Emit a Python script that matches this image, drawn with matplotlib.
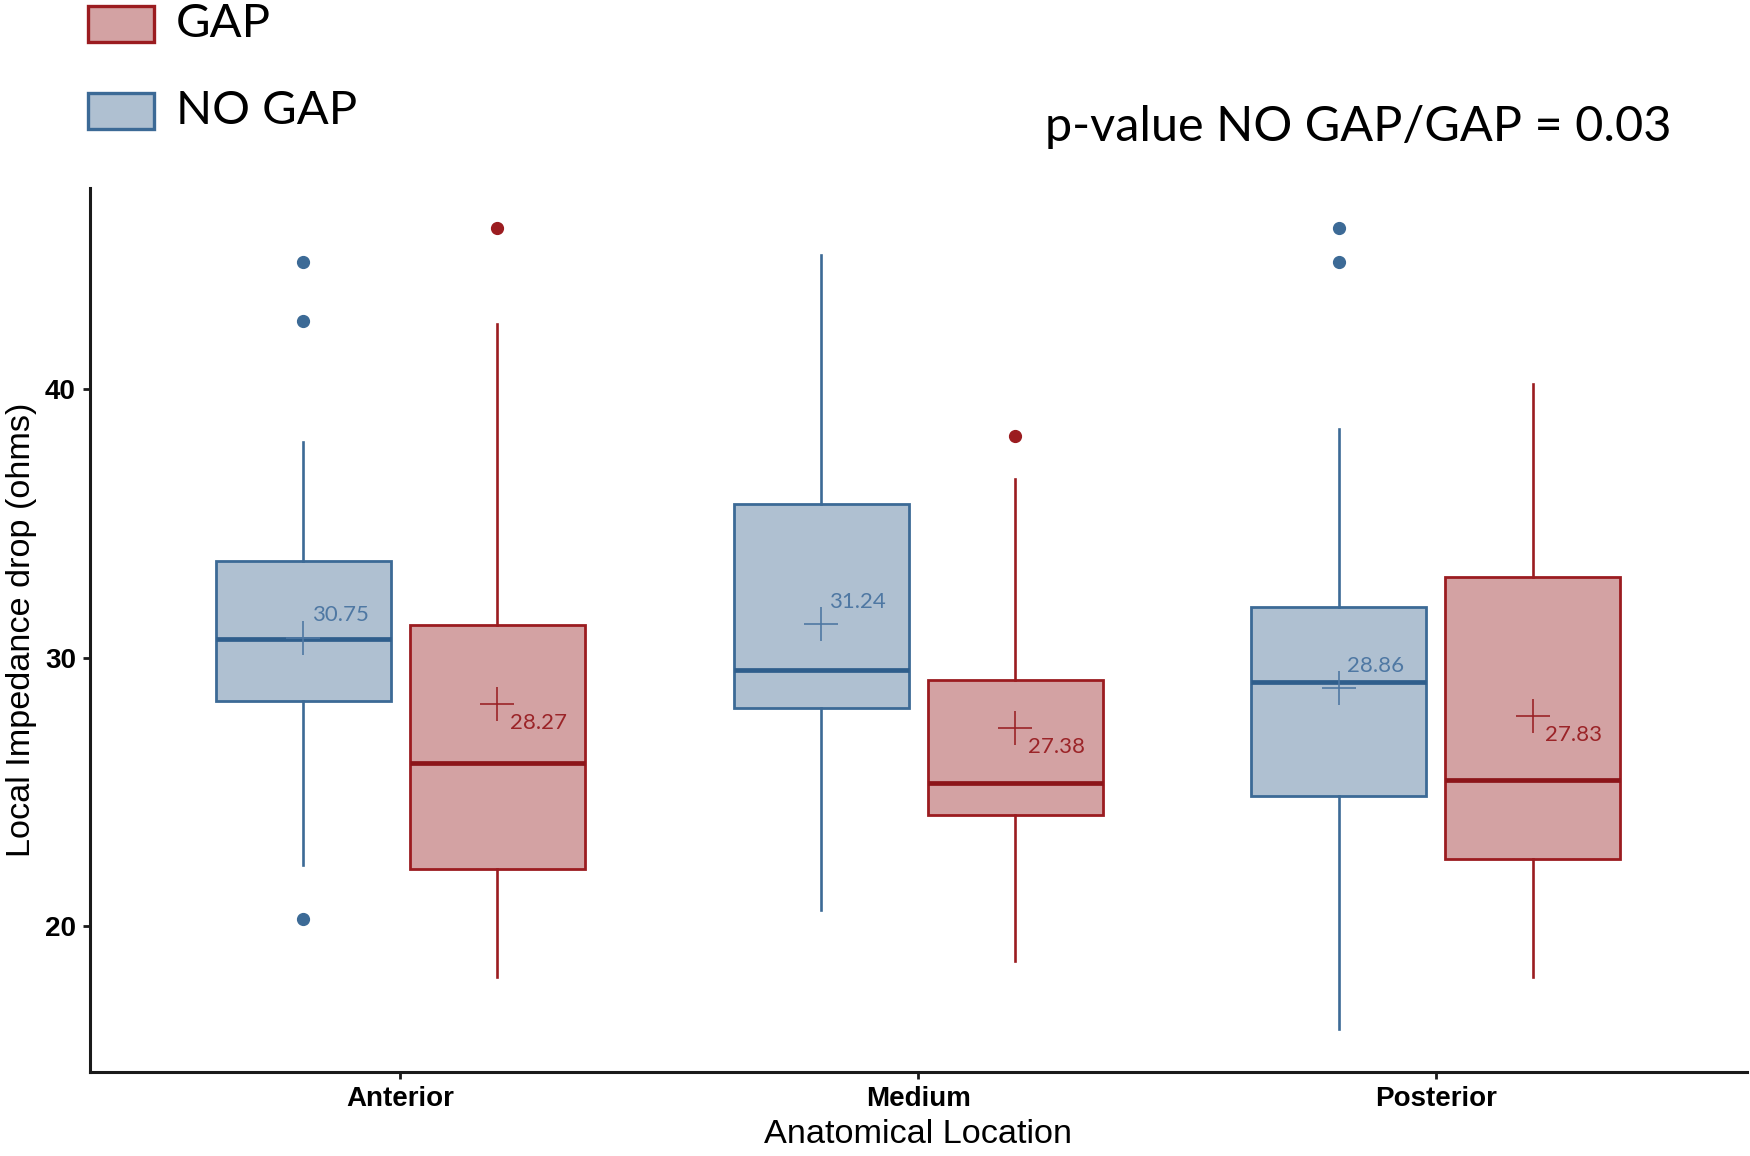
import matplotlib
matplotlib.use('Agg')
import matplotlib.pyplot as plt
from matplotlib.patches import Rectangle

# ---------------- data ----------------
locations = ['Anterior', 'Medium', 'Posterior']
groups = ['NO GAP', 'GAP']

nogap_whislo = [22.26, 20.59, 16.15]
nogap_q1 = [28.37, 28.12, 24.85]
nogap_med = [30.71, 29.54, 29.08]
nogap_q3 = [33.60, 35.73, 31.88]
nogap_whishi = [38.03, 45.02, 38.54]
nogap_mean = [30.75, 31.24, 28.86]
nogap_fliers = [[44.73, 42.55, 20.25], [], [46.03, 44.73]]

gap_whislo = [18.08, 18.70, 18.08]
gap_q1 = [22.13, 24.14, 22.51]
gap_med = [26.07, 25.31, 25.44]
gap_q3 = [31.21, 29.16, 33.01]
gap_whishi = [42.43, 36.65, 40.21]
gap_mean = [28.27, 27.38, 27.83]
gap_fliers = [[46.03], [38.28], []]

p_value_text = 'p-value NO GAP/GAP = 0.03'
yticks = [20, 30, 40]

# ---------------- style ----------------
blue_fill = '#AFC0D1'
blue_edge = '#3C6A96'
blue_med = '#2F5E8C'
blue_text = '#4F78A3'
red_fill = '#D3A2A3'
red_edge = '#9B1C20'
red_med = '#8C1519'
red_text = '#9B2428'

calibri_like = ['Lato', 'DejaVu Sans']
arial_like = ['Liberation Sans', 'DejaVu Sans']

fig = plt.figure(figsize=(17.5, 11.56), dpi=100)
ax = fig.add_axes([0.0513, 0.0728, 0.9467, 0.7642])

box_w = 0.338
offset = 0.1875


def make_stats(lo, q1, med, q3, hi, mean, fl):
    return [dict(whislo=lo[i], q1=q1[i], med=med[i], q3=q3[i], whishi=hi[i],
                 mean=mean[i], fliers=fl[i]) for i in range(len(lo))]


series = [
    (make_stats(nogap_whislo, nogap_q1, nogap_med, nogap_q3, nogap_whishi, nogap_mean, nogap_fliers),
     -offset, blue_fill, blue_edge, blue_med, blue_text, nogap_mean, 'above'),
    (make_stats(gap_whislo, gap_q1, gap_med, gap_q3, gap_whishi, gap_mean, gap_fliers),
     offset, red_fill, red_edge, red_med, red_text, gap_mean, 'below'),
]

for stats, off, fill, edge, medc, txtc, means, where in series:
    pos = [i + 1 + off for i in range(len(locations))]
    ax.bxp(stats, positions=pos, widths=box_w, patch_artist=True,
           showmeans=True, showcaps=False, manage_ticks=False,
           boxprops=dict(facecolor=fill, edgecolor=edge, linewidth=2.0),
           whiskerprops=dict(color=edge, linewidth=1.9),
           medianprops=dict(color=medc, linewidth=3.4, solid_capstyle='butt'),
           flierprops=dict(marker='o', markerfacecolor=edge, markeredgecolor=edge,
                           markersize=8.5, linestyle='none'),
           meanprops=dict(marker='+', markersize=24, markeredgecolor=txtc,
                          markeredgewidth=1.2, linestyle='none'))
    for x, m in zip(pos, means):
        if where == 'above':
            xy_off = (6, 16)
        else:
            xy_off = (9, -14)
        ax.annotate(f'{m:.2f}', xy=(x, m), xytext=xy_off, textcoords='offset points',
                    ha='left', va='center', color=txtc, fontsize=16,
                    family=calibri_like)

ax.set_xlim(0.4, 3.6)
ax.set_ylim(14.56, 47.49)
ax.set_xticks(range(1, len(locations) + 1))
ax.set_xticklabels(locations)
ax.set_yticks(yticks)

for s in ['top', 'right']:
    ax.spines[s].set_visible(False)
for s in ['left', 'bottom']:
    ax.spines[s].set_linewidth(2.2)
    ax.spines[s].set_color('#1a1a1a')

ax.tick_params(axis='both', direction='out', length=5, width=2, color='#1a1a1a', pad=5)
for lab in ax.get_xticklabels() + ax.get_yticklabels():
    lab.set_fontfamily(arial_like)
    lab.set_fontweight('bold')
    lab.set_fontsize(20)
    lab.set_color('black')

ax.set_xlabel('Anatomical Location', fontsize=24.7, family=arial_like, labelpad=5)
ax.set_ylabel('Local Impedance drop (ohms)', fontsize=24.7, family=arial_like, labelpad=6)

# legend (manual, top-left of figure)
legend_items = [(groups[1], red_fill, red_edge, 0.979), (groups[0], blue_fill, blue_edge, 0.904)]
for label, fc, ec, yc in legend_items:
    fig.patches.append(Rectangle((0.050, yc - 0.0155), 0.0378, 0.031, transform=fig.transFigure,
                                 facecolor=fc, edgecolor=ec, linewidth=2.4))
    fig.text(0.1005, yc, label, ha='left', va='center', fontsize=34, family=calibri_like)

fig.text(0.597, 0.890, p_value_text, ha='left', va='center', fontsize=35, family=calibri_like)

fig.savefig('out.png', dpi=100)
